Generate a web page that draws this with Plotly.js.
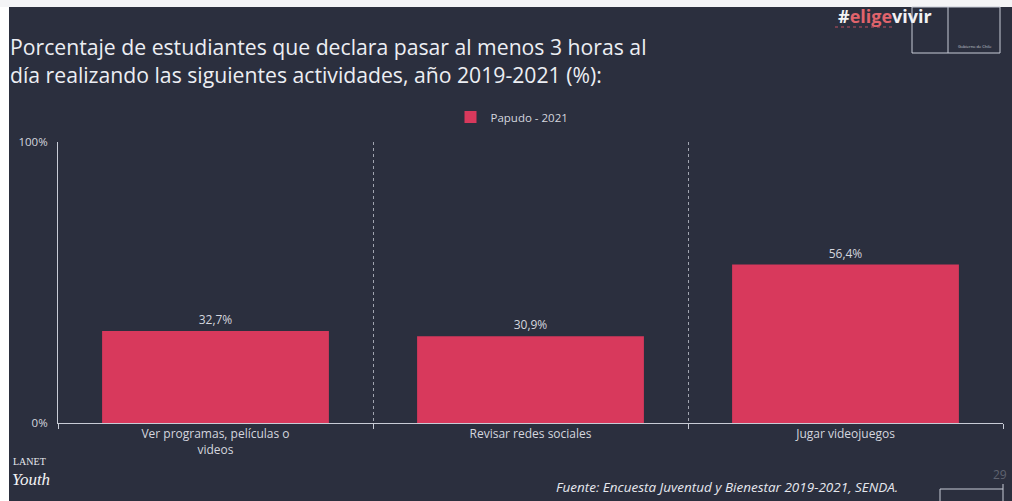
<!DOCTYPE html>
<html>
<head>
<meta charset="utf-8">
<script src="https://cdn.plot.ly/plotly-3.0.1.min.js"></script>
<style>
  html, body { margin: 0; padding: 0; background: #2b2f3e; }
  #chart { width: 1012px; height: 501px; }
</style>
</head>
<body>
<div id="chart"></div>
<script>
// ---- data ----
const categories = ["Ver programas, películas o<br>videos", "Revisar redes sociales", "Jugar videojuegos"];
const seriesName = "Papudo - 2021";
const values = [32.7, 30.9, 56.4];
const yTickVals = [0, 100];
const yTickText = ["0%", "100%"];
const titleText = "Porcentaje de estudiantes que declara pasar al menos 3 horas al<br>día realizando las siguientes actividades, año 2019-2021 (%):";
const sourceText = "Fuente: Encuesta Juventud y Bienestar 2019-2021, SENDA.";

const labels = values.map(v => v.toFixed(1).replace(".", ",") + "%");

const W = 1012, H = 501;
const L = 58, R = 9, T = 142, B = 78;
const plotW = W - L - R, plotH = H - T - B;
const px = x => (x - L) / plotW;          // pixel x -> paper x
const py = y => (H - B - y) / plotH;      // pixel y -> paper y

const FONT = "'Open Sans', 'Noto Sans', sans-serif";
const bg = "#2b2f3e";
const txt = "#d4d6de";
const barColor = "#d8395c";

const trace = {
  type: "bar",
  x: categories,
  y: values,
  name: seriesName,
  marker: { color: barColor },
  text: labels,
  textposition: "outside",
  textfont: { family: FONT, size: 12, color: txt },
  cliponaxis: false,
  hoverinfo: "none"
};

const layout = {
  width: W, height: H,
  paper_bgcolor: bg,
  plot_bgcolor: bg,
  margin: { l: L, r: R, t: T, b: B },
  font: { family: FONT, color: txt },
  title: {
    text: titleText,
    font: { family: FONT, size: 21.2, color: "#eceef3" },
    xref: "container", yref: "container",
    x: 10 / W, xanchor: "left",
    y: 1 - 55 / H, yanchor: "top"
  },
  showlegend: true,
  legend: {
    orientation: "h",
    x: px(512), xanchor: "center",
    y: py(117), yanchor: "middle",
    font: { family: FONT, size: 11.5, color: txt },
    bgcolor: "rgba(0,0,0,0)",
    itemwidth: 30
  },
  bargap: 0.28,
  xaxis: {
    type: "category",
    tickson: "boundaries",
    showgrid: true,
    gridcolor: "rgba(200,204,214,0.75)",
    griddash: "dot",
    gridwidth: 1,
    showline: true,
    linecolor: "#c8ccd6",
    linewidth: 1,
    ticks: "outside",
    ticklen: 5,
    tickcolor: "#c8ccd6",
    tickfont: { family: FONT, size: 12, color: txt },
    fixedrange: true
  },
  yaxis: {
    range: [0, 100],
    tickvals: yTickVals,
    ticktext: yTickText,
    showgrid: false,
    zeroline: false,
    showline: true,
    linecolor: "#c8ccd6",
    linewidth: 1,
    ticks: "",
    ticklabelstandoff: 7,
    tickfont: { family: FONT, size: 11.5, color: txt },
    fixedrange: true
  },
  shapes: [
    // white scan borders
    { type: "rect", xref: "paper", yref: "paper", x0: px(0), x1: px(9), y0: py(H), y1: py(0),
      fillcolor: "#ffffff", line: { width: 0 }, layer: "above" },
    { type: "rect", xref: "paper", yref: "paper", x0: px(0), x1: px(W), y0: py(7), y1: py(0),
      fillcolor: "#f4f4f6", line: { width: 0 }, layer: "above" },
    // logo box top right
    { type: "rect", xref: "paper", yref: "paper", x0: px(912), x1: px(1000), y0: py(53), y1: py(7),
      line: { color: "#c8ccd6", width: 1 }, fillcolor: "rgba(0,0,0,0)" },
    { type: "line", xref: "paper", yref: "paper", x0: px(948), x1: px(948), y0: py(53), y1: py(7),
      line: { color: "#c8ccd6", width: 1 } },
    // small line under logo
    { type: "line", xref: "paper", yref: "paper", x0: px(835), x1: px(895), y0: py(27), y1: py(27),
      line: { color: "#c05060", width: 1, dash: "dot" } },
    // bottom right box
    { type: "line", xref: "paper", yref: "paper", x0: px(940), x1: px(1003), y0: py(489), y1: py(489),
      line: { color: "#c8ccd6", width: 1 } },
    { type: "line", xref: "paper", yref: "paper", x0: px(940), x1: px(940), y0: py(489), y1: py(501),
      line: { color: "#c8ccd6", width: 1 } },
    { type: "line", xref: "paper", yref: "paper", x0: px(1003), x1: px(1003), y0: py(484), y1: py(501),
      line: { color: "#c8ccd6", width: 1 } }
  ],
  annotations: [
    { xref: "paper", yref: "paper", x: px(900), y: py(487), xanchor: "right", yanchor: "middle",
      text: "<i>" + sourceText + "</i>", showarrow: false,
      font: { family: FONT, size: 13.5, color: "#e6e8ee" } },
    { xref: "paper", yref: "paper", x: px(1000), y: py(474), xanchor: "center", yanchor: "middle",
      text: "29", showarrow: false, font: { family: FONT, size: 12, color: "#5f6370" } },
    { xref: "paper", yref: "paper", x: px(836), y: py(16), xanchor: "left", yanchor: "middle",
      text: "<b>#</b><b><span style='color:#e0646c'>elige</span>vivir</b>", showarrow: false,
      font: { family: FONT, size: 18, color: "#f2f2f4" } },
    { xref: "paper", yref: "paper", x: px(975), y: py(46), xanchor: "center", yanchor: "middle",
      text: "Gobierno de Chile", showarrow: false, font: { family: FONT, size: 4, color: "#c8ccd6" } },
    { xref: "paper", yref: "paper", x: px(11), y: py(462), xanchor: "left", yanchor: "middle",
      text: "LANET", showarrow: false, font: { family: "'Liberation Serif', serif", size: 10, color: "#e6e8ee" } },
    { xref: "paper", yref: "paper", x: px(10), y: py(479), xanchor: "left", yanchor: "middle",
      text: "<i>Youth</i>", showarrow: false, font: { family: "'Liberation Serif', serif", size: 17, color: "#f2f2f4" } }
  ]
};

Plotly.newPlot("chart", [trace], layout, { displayModeBar: false, staticPlot: true });
</script>
</body>
</html>
